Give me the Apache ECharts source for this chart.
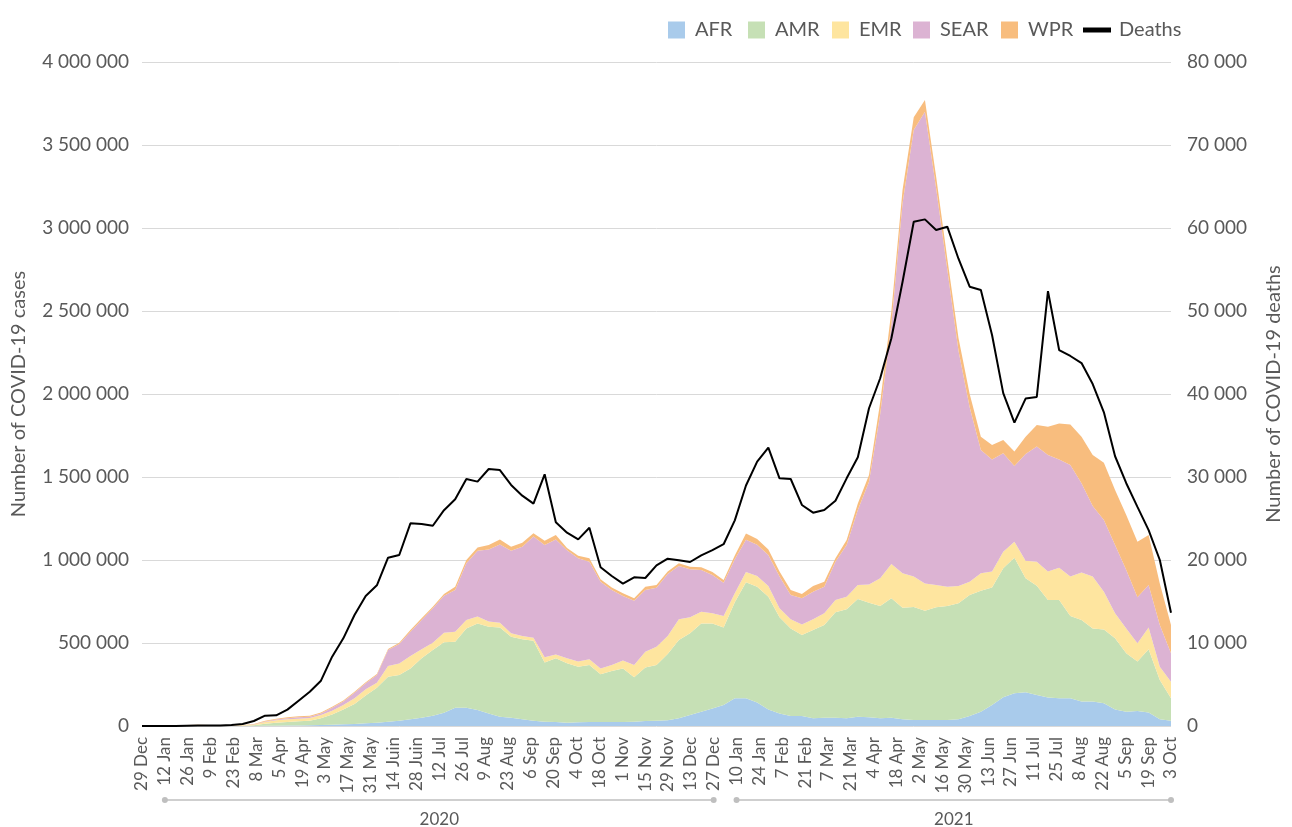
<!DOCTYPE html>
<html>
<head>
<meta charset="utf-8">
<script src="https://cdn.jsdelivr.net/npm/echarts@6/dist/echarts.min.js"></script>
<style>
html,body{margin:0;padding:0;background:#fff;}
#chart{width:1292px;height:827px;}
</style>
</head>
<body>
<div id="chart"></div>
<script>
// Weekly categories (week start)
const weeks = [
'2019-12-29','2020-01-05','2020-01-12','2020-01-19','2020-01-26','2020-02-02','2020-02-09','2020-02-16','2020-02-23','2020-03-01',
'2020-03-08','2020-03-15','2020-03-22','2020-03-29','2020-04-05','2020-04-12','2020-04-19','2020-04-26','2020-05-03','2020-05-10',
'2020-05-17','2020-05-24','2020-05-31','2020-06-07','2020-06-14','2020-06-21','2020-06-28','2020-07-05','2020-07-12','2020-07-19',
'2020-07-26','2020-08-02','2020-08-09','2020-08-16','2020-08-23','2020-08-30','2020-09-06','2020-09-13','2020-09-20','2020-09-27',
'2020-10-04','2020-10-11','2020-10-18','2020-10-25','2020-11-01','2020-11-08','2020-11-15','2020-11-22','2020-11-29','2020-12-06',
'2020-12-13','2020-12-20','2020-12-27','2021-01-03','2021-01-10','2021-01-17','2021-01-24','2021-01-31','2021-02-07','2021-02-14',
'2021-02-21','2021-02-28','2021-03-07','2021-03-14','2021-03-21','2021-03-28','2021-04-04','2021-04-11','2021-04-18','2021-04-25',
'2021-05-02','2021-05-09','2021-05-16','2021-05-23','2021-05-30','2021-06-06','2021-06-13','2021-06-20','2021-06-27','2021-07-04',
'2021-07-11','2021-07-18','2021-07-25','2021-08-01','2021-08-08','2021-08-15','2021-08-22','2021-08-29','2021-09-05','2021-09-12',
'2021-09-19','2021-09-26','2021-10-03'
];

// Tick labels shown under the axis
const tickLabels = [
'29 Dec','12 Jan','26 Jan','9 Feb','23 Feb','8 Mar','5 Apr','19 Apr','3 May','17 May','31 May','14 Juin','28 Juin',
'12 Jul','26 Jul','9 Aug','23 Aug','6 Sep','20 Sep','4 Oct','18 Oct','1 Nov','15 Nov','29 Nov','13 Dec','27 Dec',
'10 Jan','24 Jan','7 Feb','21 Feb','7 Mar','21 Mar','4 Apr','18 Apr','2 May','16 May','30 May','13 Jun','27 Jun',
'11 Jul','25 Jul','8 Aug','22 Aug','5 Sep','19 Sep','3 Oct'
];

const yearGroups = [
  {name:'2020', from:'12 Jan', to:'27 Dec'},
  {name:'2021', from:'10 Jan', to:'3 Oct'}
];

const afr = [
0,0,0,0,0,0,0,0,0,0,
200,1000,2000,3000,3500,4000,6000,8000,10000,12000,
16000,20000,26000,32000,40000,50000,62000,80000,110000,110000,
96000,76000,56000,50000,40000,32000,26000,24000,20000,22000,
24000,24000,24000,24000,26000,30000,32000,34000,46000,66000,
86000,106000,127000,167000,167000,141000,100000,76000,60000,60000,
46000,50000,50000,46000,56000,52000,46000,50000,40000,36000,
36000,36000,36000,40000,60000,86000,127000,173000,197000,203000,
187000,171000,167000,167000,147000,147000,137000,100000,86000,90000,
82000,40000,32000
];
const amr = [
0,0,0,0,0,0,0,0,500,2000,
4800,13000,18000,21000,24500,28000,40000,62000,90000,121000,
167000,211000,271000,275000,307000,358000,396000,424000,398000,478000,
522000,522000,538000,488000,482000,482000,356000,384000,358000,335000,
343000,287000,307000,323000,267000,323000,335000,400000,472000,492000,
532000,512000,467000,578000,699000,698000,679000,579000,528000,488000,
532000,558000,635000,657000,709000,691000,677000,719000,673000,681000,
659000,679000,687000,699000,729000,729000,708000,777000,817000,687000,
658000,588000,592000,496000,492000,441000,445000,428000,352000,298000,
380000,237000,135000
];
const emr = [
0,0,0,0,0,0,0,200,800,2000,
3000,10000,14000,16000,16000,16000,20000,22000,26000,34000,
38000,30000,64000,70000,75000,54000,44000,58000,60000,51000,
41000,31000,28000,20000,20000,18000,32000,22000,30000,31000,
35000,36000,36000,47000,74000,95000,111000,108000,125000,97000,
71000,61000,69000,55000,62000,65000,64000,54000,55000,64000,
65000,71000,74000,76000,84000,110000,167000,207000,207000,183000,
164000,134000,116000,104000,80000,105000,95000,100000,96000,106000,
145000,171000,195000,237000,285000,312000,227000,151000,150000,110000,
132000,80000,100000
];
const sear = [
0,0,0,0,0,0,0,0,0,300,
1000,3000,5000,6000,8000,8000,10000,18000,21000,34000,
36000,46000,97000,117000,146000,177000,207000,223000,251000,341000,
397000,435000,472000,498000,538000,609000,676000,694000,650000,622000,
588000,522000,452000,389000,388000,371000,355000,374000,321000,289000,
251000,231000,200000,205000,194000,188000,187000,191000,146000,157000,
166000,160000,231000,311000,452000,619000,990000,1444000,2230000,2690000,
2842000,2391000,1911000,1417000,1051000,743000,676000,593000,456000,643000,
693000,703000,652000,672000,538000,425000,432000,411000,352000,277000,
255000,251000,171000
];
const wpr = [
0,100,1000,3000,6000,7000,6000,3000,2000,2000,
3000,5000,5000,6000,6000,6000,6000,6000,6000,6000,
6000,6000,6000,8000,10000,10000,10000,10000,20000,20000,
20000,26000,30000,24000,24000,20000,26000,27000,15000,15000,
20000,15000,16000,16000,14000,20000,16000,14000,16000,16000,
16000,18000,17000,22000,37000,35000,34000,30000,30000,26000,
34000,30000,20000,30000,40000,40000,70000,80000,80000,77000,
70000,70000,67000,77000,80000,80000,87000,80000,87000,104000,
130000,170000,217000,245000,281000,307000,345000,332000,331000,335000,
302000,251000,170000
];
const deaths = [
0,0,0,10,30,50,60,70,120,240,
600,1240,1290,1970,3050,4130,5460,8350,10560,13370,
15660,16950,20280,20600,24420,24340,24130,26000,27310,29760,
29440,30960,30840,29040,27750,26790,30320,24540,23290,22490,
23890,19120,18070,17150,17910,17830,19360,20160,19960,19760,
20560,21200,21900,24780,28980,31850,33530,29840,29760,26630,
25700,26020,27140,29840,32370,38280,41900,46710,53530,60760,
61040,59760,60160,56300,52930,52530,47110,40100,36560,39450,
39650,52400,45300,44580,43730,41200,37800,32500,29250,26400,
23600,20000,13650
];

const regions = [
  {name:'AFR', data:afr, color:'#a9cbeb'},
  {name:'AMR', data:amr, color:'#c6e0b5'},
  {name:'EMR', data:emr, color:'#fee59f'},
  {name:'SEAR', data:sear, color:'#dcb3d3'},
  {name:'WPR', data:wpr, color:'#f8bd7e'}
];

// legend item horizontal placement (layout only; legend has 5px inner padding)
const legendLeft = {AFR: 663, AMR: 743, EMR: 827, SEAR: 908, WPR: 996, Deaths: 1078};

const FONT = 'Lato, "Open Sans", sans-serif';
const GREY = '#595959';
const fmt = v => String(v).replace(/\B(?=(\d{3})+(?!\d))/g, ' ');

const chart = echarts.init(document.getElementById('chart'), null, {renderer:'canvas'});

const series = regions.map(r => ({
  name: r.name,
  type: 'line',
  stack: 'cases',
  data: r.data,
  xAxisIndex: 0,
  yAxisIndex: 0,
  symbol: 'none',
  showSymbol: false,
  smooth: false,
  lineStyle: {width: 0, color: r.color},
  itemStyle: {color: r.color},
  areaStyle: {color: r.color, opacity: 1},
  emphasis: {disabled: true},
  z: 2
}));
series.push({
  name: 'Deaths',
  type: 'line',
  data: deaths,
  xAxisIndex: 0,
  yAxisIndex: 1,
  symbol: 'none',
  showSymbol: false,
  lineStyle: {width: 2, color: '#000'},
  itemStyle: {color: '#000'},
  emphasis: {disabled: true},
  z: 5
});

const legends = regions.map(r => ({
  data: [r.name],
  left: legendLeft[r.name], top: 15,
  icon: 'rect', itemWidth: 17, itemHeight: 17,
  textStyle: {fontFamily: FONT, fontSize: 20, color: GREY, padding: [0,0,0,5]},
  selectedMode: false
}));
legends.push({
  data: ['Deaths'],
  left: legendLeft.Deaths, top: 15,
  icon: 'rect', itemWidth: 28, itemHeight: 5,
  textStyle: {fontFamily: FONT, fontSize: 20, color: GREY, padding: [0,0,0,3]},
  selectedMode: false
});

const option = {
  animation: false,
  backgroundColor: '#fff',
  textStyle: {fontFamily: FONT},
  grid: {left: 142, right: 115, top: 62, bottom: 101, containLabel: false},
  legend: legends,
  xAxis: [
    {
      type: 'category', data: weeks, boundaryGap: false, show: false, position: 'bottom'
    },
    {
      type: 'category', data: tickLabels, boundaryGap: false, position: 'bottom', offset: 0,
      axisLine: {show: false}, axisTick: {show: false}, splitLine: {show: false},
      axisLabel: {interval: 0, rotate: 90, fontFamily: FONT, fontSize: 17, color: GREY, margin: 11}
    }
  ],
  yAxis: [
    {
      type: 'value', min: 0, max: 4000000, interval: 500000, position: 'left',
      name: 'Number of COVID-19 cases', nameLocation: 'middle', nameRotate: 90, nameGap: 113,
      nameTextStyle: {fontFamily: FONT, fontSize: 20, color: GREY},
      axisLine: {show: false}, axisTick: {show: false},
      axisLabel: {formatter: fmt, fontFamily: FONT, fontSize: 19, color: GREY, margin: 13},
      splitLine: {show: true, lineStyle: {color: '#d9d9d9', width: 1}}
    },
    {
      type: 'value', min: 0, max: 80000, interval: 10000, position: 'right',
      name: 'Number of COVID-19 deaths', nameLocation: 'middle', nameRotate: 90, nameGap: 93,
      nameTextStyle: {fontFamily: FONT, fontSize: 20, color: GREY},
      axisLine: {show: false}, axisTick: {show: false},
      axisLabel: {formatter: fmt, fontFamily: FONT, fontSize: 19, color: GREY, margin: 16},
      splitLine: {show: false}
    }
  ],
  series: series
};

chart.setOption(option);

// Year grouping brackets below the date labels
function drawYearGroups() {
  const baseY = chart.convertToPixel({yAxisIndex: 0}, 0);
  const lineY = baseY + 74;
  const textY = baseY + 94;
  const elements = [];
  yearGroups.forEach(g => {
    const x1 = chart.convertToPixel({xAxisIndex: 1}, tickLabels.indexOf(g.from));
    const x2 = chart.convertToPixel({xAxisIndex: 1}, tickLabels.indexOf(g.to));
    elements.push({type: 'line', silent: true, shape: {x1: x1, y1: lineY, x2: x2, y2: lineY},
      style: {stroke: '#bfbfbf', lineWidth: 1.5}});
    elements.push({type: 'circle', silent: true, shape: {cx: x1, cy: lineY, r: 3}, style: {fill: '#bfbfbf'}});
    elements.push({type: 'circle', silent: true, shape: {cx: x2, cy: lineY, r: 3}, style: {fill: '#bfbfbf'}});
    elements.push({type: 'text', silent: true, x: (x1 + x2) / 2, y: textY,
      style: {text: g.name, fill: GREY, font: '17px ' + FONT, align: 'center', verticalAlign: 'middle'}});
  });
  chart.setOption({graphic: elements});
}
drawYearGroups();
</script>
</body>
</html>
